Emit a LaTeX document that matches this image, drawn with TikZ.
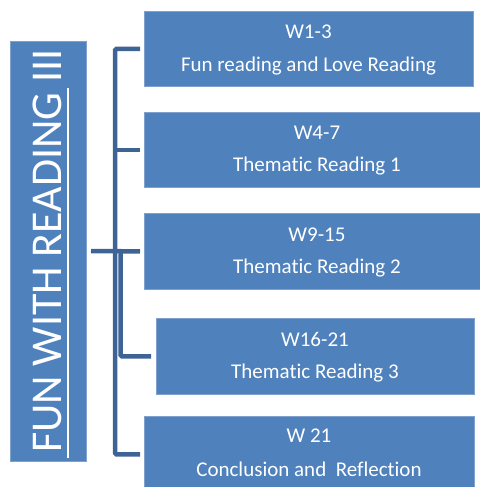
\documentclass[tikz,border=0pt]{standalone}
\usepackage{fontspec}
\setmainfont{Carlito}[Ligatures={NoCommon,NoRequired,NoContextual,NoDiscretionary}]
\newcommand{\nolig}{\kern0pt }
\definecolor{boxfill}{RGB}{79,129,189}
\definecolor{boxedge}{RGB}{128,160,206}
\definecolor{brk}{RGB}{62,100,150}
\begin{document}
\begin{tikzpicture}[x=1pt,y=-1pt,
  box/.style={draw=boxedge, line width=0.8pt, fill=boxfill, anchor=north west, inner sep=0pt},
  lbl/.style={text=white, font=\fontsize{21}{25}\selectfont, anchor=base, inner sep=0pt},
  brkline/.style={draw=brk, line width=4.5pt, rounded corners=1.5pt}]
\useasboundingbox (0,0) rectangle (479,487);
% title box
\node[box, minimum width=76pt, minimum height=420pt] (tb) at (10,41) {};
\node[rotate=90, text=white, font=\fontsize{44}{50}\selectfont, inner sep=0pt, text depth=0pt] (title) at (47,251) {FUN WITH READING III};
\draw[white, line width=1.6pt] (68,458) -- (68,88);
% boxes
\node[box, minimum width=329pt, minimum height=75pt] (b1) at (144,11) {};
\node[box, minimum width=337pt, minimum height=75pt] (b2) at (144,112) {};
\node[box, minimum width=337pt, minimum height=76pt] (b3) at (144,213) {};
\node[box, minimum width=318pt, minimum height=76pt] (b4) at (156,318) {};
\node[box, minimum width=330pt, minimum height=76pt] (b5) at (144,416) {};
% labels
\node[lbl] (t1a) at (308.5,39) {W1-3};
\node[lbl] (t1b) at (308.5,71) {Fun reading and Love Reading};
\node[lbl] (t2a) at (317,139.5) {W4-7};
\node[lbl] (t2b) at (317,171.5) {Themat\nolig ic Reading 1};
\node[lbl] (t3a) at (317,241) {W9-15};
\node[lbl] (t3b) at (317,273) {Themat\nolig ic Reading 2};
\node[lbl] (t4a) at (315,346) {W16-21};
\node[lbl] (t4b) at (315,378) {Themat\nolig ic Reading 3};
\node[lbl] (t5a) at (309,442) {W 21};
\node[lbl] (t5b) at (309,476) {Conclusion and\ \ Ref\nolig lect\nolig ion};
% bracket
\coordinate (spine) at (115,0);
\coordinate (spine2) at (120.5,0);
\coordinate (stem) at (91,251);
\draw[brkline] ([xshift=-4pt]b1.west) -- (b1.west -| spine) -- (b5.west -| spine) -- ([xshift=-4pt]b5.west);
\draw[brkline] ([xshift=-4pt]b2.west) -- (b2.west -| spine);
\draw[brkline] (stem) -- ([xshift=-4pt]b3.west);
\draw[brkline] (stem -| spine2) -- (b4.west -| spine2) -- ([xshift=-5pt]b4.west);
\end{tikzpicture}
\end{document}
